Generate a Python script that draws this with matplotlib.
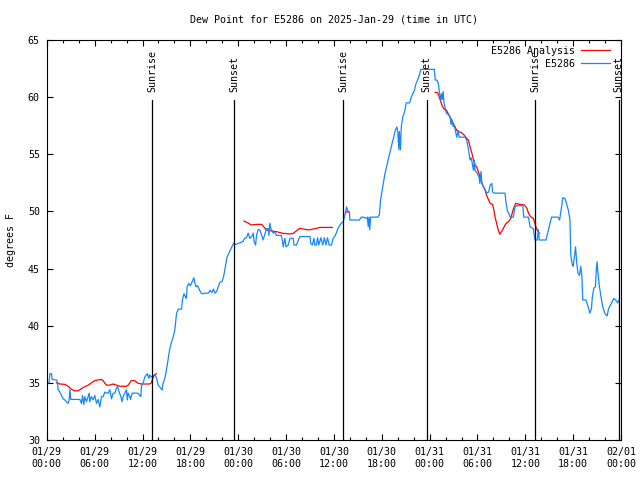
import numpy as np
import matplotlib
matplotlib.use("Agg")
import matplotlib.pyplot as plt
from matplotlib.ticker import MultipleLocator

plt.rcParams['font.family'] = ['DejaVu Sans Mono']

title = "Dew Point for E5286 on 2025-Jan-29 (time in UTC)"
ylabel = "degrees F"
series_names = ["E5286 Analysis", "E5286"]

# hours since 2025-01-29 00:00 UTC
tick_hours = [0, 6, 12, 18, 24, 30, 36, 42, 48, 54, 60, 66, 72]
tick_labels = ["01/29\n00:00", "01/29\n06:00", "01/29\n12:00", "01/29\n18:00",
               "01/30\n00:00", "01/30\n06:00", "01/30\n12:00", "01/30\n18:00",
               "01/31\n00:00", "01/31\n06:00", "01/31\n12:00", "01/31\n18:00",
               "02/01\n00:00"]

sunrise_hours = [13.23, 37.18, 61.25]
sunset_hours = [23.51, 47.64, 71.71]

obs_hours = [0.0, 0.29, 0.38, 0.59, 0.67, 1.21, 1.34, 1.42, 1.63, 1.84, 2.05, 2.26, 2.47, 2.68,
             2.8, 2.9, 3.0, 4.14, 4.35, 4.47, 4.64, 4.77, 4.98, 5.31, 5.39, 5.6, 5.81, 6.02,
             6.23, 6.44, 6.65, 6.86, 7.07, 7.28, 7.49, 7.7, 7.9, 8.11, 8.32, 8.53, 8.65, 8.86,
             9.07, 9.28, 9.45, 9.57, 9.78, 9.99, 10.1, 10.2, 10.4, 10.5, 10.7, 11.0, 11.4,
             11.66, 11.79, 11.87, 12.08, 12.29, 12.5, 12.6, 12.8, 12.9, 13.1, 13.3, 13.55,
             13.7, 13.97, 14.1, 14.47, 14.55, 14.8, 15.0, 15.2, 15.4, 15.6, 15.8, 16.05,
             16.27, 16.5, 16.9, 17.0, 17.2, 17.4, 17.5, 17.6, 17.8, 18.0, 18.2, 18.44, 18.55,
             18.7, 18.9, 19.1, 19.3, 19.5, 19.84, 20.25, 20.47, 20.7, 20.9, 21.1, 21.3, 21.5,
             21.7, 22.0, 22.2, 22.4, 22.6, 22.8, 23.0, 23.2, 23.45, 23.7, 24.0, 24.4, 24.6,
             24.8, 25.04, 25.25, 25.46, 25.7, 25.88, 26.0, 26.18, 26.3, 26.5, 26.7, 27.0,
             27.1, 27.3, 27.55, 27.76, 27.85, 27.97, 28.1, 28.4, 28.6, 28.8, 29.2, 29.4,
             29.56, 29.65, 29.85, 30.0, 30.27, 30.5, 30.9, 31.0, 31.3, 31.73, 32.6, 33.0,
             33.1, 33.3, 33.5, 33.6, 33.8, 33.95, 34.1, 34.37, 34.6, 34.8, 35.0, 35.2, 35.4,
             35.7, 35.9, 36.1, 36.3, 36.5, 36.9, 37.17, 37.38, 37.6, 37.75, 37.95, 38.0,
             39.2, 39.43, 39.7, 40.06, 40.2, 40.3, 40.4, 40.5, 40.6, 41.5, 41.7, 41.85,
             42.06, 42.2, 42.4, 42.7, 42.9, 43.1, 43.3, 43.5, 43.7, 43.9, 44.0, 44.15, 44.2,
             44.35, 44.45, 44.65, 44.86, 45.07, 45.5, 45.7, 45.9, 46.1, 46.3, 46.5, 46.7,
             46.9, 48.6, 48.7, 48.9, 49.1, 49.2, 49.4, 49.5, 49.6, 49.7, 49.8, 49.9, 50.1,
             50.3, 50.55, 50.7, 50.8, 50.97, 51.1, 51.4, 51.6, 51.7, 52.44, 52.65, 52.86,
             53.07, 53.2, 53.3, 53.5, 53.6, 53.7, 54.0, 54.2, 54.3, 54.45, 54.55, 54.9,
             55.15, 55.4, 55.6, 55.8, 55.9, 56.1, 57.45, 57.6, 57.74, 58.0, 58.1, 58.5,
             58.7, 58.9, 59.7, 59.8, 60.4, 60.6, 61.0, 61.2, 61.5, 61.64, 61.75, 62.6, 62.9,
             63.1, 63.3, 64.1, 64.3, 64.55, 64.7, 65.0, 65.1, 65.4, 65.6, 65.7, 65.9, 66.0,
             66.15, 66.3, 66.45, 66.6, 66.8, 66.95, 67.1, 67.2, 67.6, 67.87, 68.1, 68.3,
             68.4, 68.6, 68.8, 68.9, 69.0, 69.1, 69.3, 69.5, 69.7, 69.95, 70.25, 70.45,
             70.8, 71.1, 71.4, 71.6, 71.8]
obs_values = [35.0, 35.0, 35.8, 35.8, 35.3, 35.25, 35.1, 34.4, 34.2, 33.9, 33.6, 33.5, 33.35, 33.2,
              33.5, 34.4, 33.55, 33.55, 33.2, 33.9, 33.1, 33.8, 33.35, 34.1, 33.35, 33.8, 33.5, 33.9,
              33.2, 33.55, 32.9, 33.8, 33.8, 34.2, 34.1, 34.1, 34.4, 33.6, 34.1, 34.1, 34.4, 34.7,
              34.2, 33.8, 33.35, 33.8, 34.1, 34.4, 33.5, 34.1, 33.8, 33.55, 34.1, 34.1, 34.1,
              33.9, 33.8, 34.7, 35.0, 35.5, 35.7, 35.8, 35.4, 35.7, 35.5, 35.6, 35.7,
              35.55, 34.8, 34.7, 34.37, 34.9, 35.4, 36.1, 37.0, 37.9, 38.5, 38.9, 39.6,
              41.1, 41.45, 41.45, 42.25, 42.8, 42.5, 42.4, 43.4, 43.7, 43.5, 43.8, 44.2, 43.8,
              43.4, 43.5, 43.2, 42.9, 42.8, 42.85, 42.85, 43.1, 42.9, 43.2, 42.85, 43.0, 43.4,
              43.8, 43.9, 44.4, 45.2, 46.0, 46.3, 46.6, 46.9, 47.25, 47.1, 47.2, 47.3, 47.36,
              47.65, 47.7, 48.1, 47.65, 47.8, 48.1, 47.36, 47.06, 47.9, 48.4, 48.4, 47.8,
              47.5, 47.9, 48.5, 48.5, 47.9, 48.96, 48.5, 48.1, 48.2, 47.9, 47.9, 47.9,
              47.36, 46.9, 47.65, 46.9, 47.06, 47.65, 47.65, 47.06, 47.06, 47.8, 47.8, 47.8,
              47.2, 47.06, 47.65, 47.06, 47.06, 47.7, 47.06, 47.7, 47.06, 47.7, 47.06, 47.7, 47.06,
              47.06, 47.65, 47.8, 48.1, 48.5, 48.96, 49.1, 49.7, 50.4, 50.0, 50.0, 49.25,
              49.25, 49.5, 49.5, 49.4, 49.5, 48.67, 49.5, 48.4, 49.5, 49.5, 49.7, 51.0,
              51.9, 52.5, 53.3, 54.2, 54.8, 55.4, 55.96, 56.5, 57.1, 57.4, 57.0, 55.4, 57.0,
              55.4, 57.4, 58.3, 58.7, 59.5, 59.5, 60.0, 60.3, 60.6, 61.2, 61.5, 61.9,
              62.43, 62.43, 61.5, 61.5, 61.2, 60.6, 59.75, 60.3, 59.8, 60.5, 59.5, 59.2, 58.6,
              58.5, 58.3, 57.6, 58.0, 57.4, 57.5, 56.5, 57.1, 56.5, 56.5, 56.25, 55.5,
              54.5, 54.7, 54.4, 53.6, 54.5, 53.6, 53.3, 53.0, 52.45, 53.5, 52.45, 52.0,
              51.6, 51.7, 52.3, 52.45, 51.7, 51.6, 51.6, 50.7, 50.1, 49.7, 49.5, 49.5,
              50.4, 50.5, 50.5, 49.5, 49.5, 48.67, 48.5, 47.5, 47.5, 48.4, 47.5, 47.5, 48.4,
              48.96, 49.5, 49.5, 49.25, 50.4, 51.2, 51.1, 50.85, 50.1, 49.25, 46.2, 45.3, 45.2,
              46.0, 46.9, 45.5, 44.6, 44.4, 45.2, 44.3, 42.25, 42.25, 41.7, 41.1, 41.5,
              42.5, 43.3, 43.4, 44.9, 45.6, 44.7, 43.4, 42.5, 41.7, 41.1, 40.85, 41.5,
              41.96, 42.4, 42.2, 42.0, 42.3]

nan = float('nan')
ana_hours = [1.2, 1.63, 2.26, 2.68, 3.1, 3.5, 3.93, 4.35, 4.77, 5.2, 5.6, 6.02, 6.44, 6.86,
             7.07, 7.28, 7.5, 7.9, 8.32, 8.74, 9.15, 9.57, 9.99, 10.2, 10.4, 10.6, 11.0,
             11.46, 11.87, 12.29, 12.9, 13.1, 13.3, 13.5, 13.75, nan,
             24.71, 25.05, 25.67, 26.3, 26.93, 27.55, 28.18, 28.8, 29.65, 30.48, 30.9,
             31.7, 32.4, 32.8, 33.2, 33.8, 34.25, 35.8, nan,
             37.55, 37.9, nan,
             48.7, 49.0, 49.2, 49.4, 49.6, 49.84, 50.1, 50.3, 50.55, 50.76, 50.97, 51.2,
             51.4, 51.6, 52.0, 52.3, 52.65, 52.86, 53.07, 53.3, 53.5, 53.7, 53.9, 54.1,
             54.3, 54.5, 54.74, 54.95, 55.15, 55.4, 55.6, 55.9, 56.07, 56.2, 56.4, 56.6,
             56.8, 57.03, 57.24, 57.45, 57.66, 57.9, 58.2, 58.4, 58.6, 58.8, 59.1, 59.5,
             59.9, 60.2, 60.4, 60.67, 61.0, 61.2, 61.4, 61.6, 61.75]
ana_values = [35.0, 34.9, 34.87, 34.7, 34.43, 34.3, 34.3, 34.5, 34.67, 34.8, 35.0, 35.2, 35.25, 35.3,
              35.2, 34.96, 34.8, 34.8, 34.9, 34.8, 34.7, 34.7, 34.7, 34.8, 35.0, 35.2, 35.2,
              34.96, 34.9, 34.9, 34.9, 35.0, 35.4, 35.7, 35.8, nan,
              49.16, 49.05, 48.81, 48.87, 48.87, 48.37, 48.29, 48.23, 48.08, 48.03, 48.08,
              48.52, 48.43, 48.38, 48.43, 48.52, 48.6, 48.6, nan,
              49.95, 49.95, nan,
              60.42, 60.4, 60.04, 59.6, 59.2, 58.93, 58.88, 58.6, 58.3, 58.0, 57.7, 57.4,
              57.1, 56.98, 56.9, 56.7, 56.4, 56.25, 55.67, 55.1, 54.5, 54.06, 53.9, 53.5,
              53.04, 52.6, 52.17, 51.9, 51.4, 51.0, 50.7, 50.6, 50.1, 49.54, 48.96, 48.38,
              48.0, 48.23, 48.5, 48.8, 49.0, 49.1, 49.4, 49.98, 50.4, 50.7, 50.65, 50.6,
              50.56, 50.27, 49.84, 49.54, 49.4, 48.96, 48.5, 48.23, 48.1]

FS = 7.2
fig = plt.figure(figsize=(6.4, 4.8), dpi=100)
ax = fig.add_axes([46.8/640, 1 - 440/480, 574.2/640, 400/480])

ax.plot(ana_hours, ana_values, color='#ff0000', lw=0.9, label=series_names[0])
ax.plot(obs_hours, obs_values, color='#1487ff', lw=0.9, label=series_names[1])

ymin, ymax = 30, 65
for h in sunrise_hours:
    ax.plot([h, h], [ymin, ymin + 0.85 * (ymax - ymin)], color='black', lw=0.9)
    ax.text(h, ymin + 0.87 * (ymax - ymin), "Sunrise", rotation=90, ha='center', va='bottom', fontsize=FS)
for h in sunset_hours:
    ax.plot([h, h], [ymin, ymin + 0.85 * (ymax - ymin)], color='black', lw=0.9)
    ax.text(h, ymin + 0.87 * (ymax - ymin), "Sunset", rotation=90, ha='center', va='bottom', fontsize=FS)

ax.set_xlim(0, 72)
ax.set_ylim(ymin, ymax)
ax.set_xticks(tick_hours)
ax.set_xticklabels(tick_labels, linespacing=1.3)
ax.xaxis.set_minor_locator(MultipleLocator(2))
ax.yaxis.set_major_locator(MultipleLocator(5))
ax.tick_params(axis='both', which='both', direction='in', top=True, right=True, labelsize=FS, width=0.8)
ax.tick_params(axis='both', which='major', length=4.5, pad=5)
ax.tick_params(axis='both', which='minor', length=2.5)
for s in ax.spines.values():
    s.set_linewidth(0.8)

ax.set_title(title, fontsize=FS, pad=12.5)
ax.set_ylabel(ylabel, fontsize=FS, labelpad=8.5)

ax.legend(loc='upper right', bbox_to_anchor=(0.9808, 0.985), markerfirst=False, frameon=False,
          fontsize=FS, handlelength=2.9, handletextpad=0.6, labelspacing=0.3,
          borderaxespad=0.0, borderpad=0.0)

fig.savefig("out.png", dpi=100)
